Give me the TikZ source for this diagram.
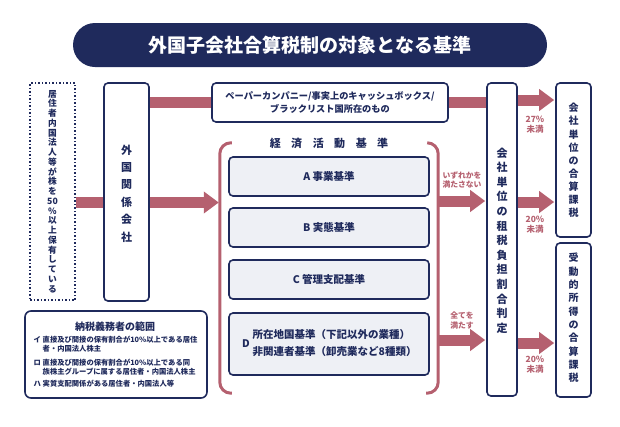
\documentclass[tikz,border=0pt]{standalone}
\usepackage{fontspec}
\setmainfont{Noto Sans CJK JP}
\usetikzlibrary{arrows.meta,backgrounds}
\definecolor{navy}{HTML}{1F2A5C}
\definecolor{rose}{HTML}{B5606F}
\definecolor{boxgray}{HTML}{EEF0F5}
\tikzset{
  box/.style={draw=navy, line width=1.6pt, rounded corners=4pt, fill=white, inner sep=0pt, text=navy, font=\bfseries},
  crit/.style={box, fill=boxgray, minimum width=200pt, minimum height=39pt, font=\bfseries\fontsize{10.5}{12}\selectfont},
  vtxt/.style={text=navy, align=center, inner sep=0pt},
  bar/.style={draw=rose, line width=11pt},
  arr/.style={bar, -{Triangle[length=15pt 0, width=21pt 0]}, shorten >=1pt},
  lbl/.style={text=rose, font=\bfseries\fontsize{7.8}{9.5}\selectfont, align=center, inner sep=0pt},
  pct/.style={text=rose, font=\bfseries\fontsize{8.5}{10}\selectfont, align=center, inner sep=0pt},
  sline/.style={text=navy, anchor=west, inner sep=0pt, font=\bfseries\fontsize{7.3}{8}\selectfont},
}
\begin{document}
\begin{tikzpicture}[x=1pt,y=-1pt]
\useasboundingbox (0,0) rectangle (620,426);
% title
\node[fill=navy, rounded corners=22pt, minimum width=474pt, minimum height=44pt, inner sep=0pt,
      text=white, font=\bfseries\fontsize{19}{19}\selectfont] (title) at (310,45) {外国子会社合算税制の対象となる基準};
% left dotted box
\node[draw=navy, line width=1.5pt, dotted, minimum width=45pt, minimum height=217pt, inner sep=0pt] (own) at (52.5,191.5) {};
\node[vtxt, font=\bfseries\fontsize{8.7}{9.75}\selectfont] (ownt) at (own.center)
  {居\\住\\者\\内\\国\\法\\人\\等\\が\\株\\を\\50\\\%\\以\\上\\保\\有\\し\\て\\い\\る};
% foreign related company
\node[box, minimum width=45pt, minimum height=218pt] (fc) at (126.5,192) {};
\node[vtxt, font=\bfseries\fontsize{11}{17.4}\selectfont] (fct) at (126.5,193.5) {外\\国\\関\\係\\会\\社};
% paper company box
\node[box, minimum width=236pt, minimum height=39pt, align=center, font=\bfseries\fontsize{9.2}{13}\selectfont] (paper) at (330,102.5)
  {ペーパーカンパニー/事実上のキャッシュボックス/\\ブラックリスト国所在のもの};
% economic activity criteria region
\node[minimum width=218pt, minimum height=250pt, inner sep=0pt] (eco) at (329,268) {};
\draw[rose, line width=3pt, rounded corners=11pt] ([xshift=12pt]eco.north west) -- (eco.north west) -- (eco.south west) -- ([xshift=12pt]eco.south west);
\draw[rose, line width=3pt, rounded corners=11pt] ([xshift=-11pt]eco.north east) -- (eco.north east) -- (eco.south east) -- ([xshift=-12pt]eco.south east);
\node[text=navy, inner sep=0pt, font=\bfseries\fontsize{11}{11}\selectfont] (ecot) at (329,143)
  {経\hspace{10.5pt}済\hspace{10.5pt}活\hspace{10.5pt}動\hspace{10.5pt}基\hspace{10.5pt}準};
\node[crit] (A) at (329,176.5) {A 事業基準};
\node[crit] (B) at (329,227.5) {B 実態基準};
\node[crit] (C) at (329,279.5) {C 管理支配基準};
\node[crit, minimum height=62pt] (D) at (329,344) {};
\node[text=navy, anchor=east, inner sep=0pt, font=\bfseries\fontsize{10.5}{12}\selectfont] (Dl) at (250,344) {D};
\node[text=navy, anchor=west, inner sep=0pt, align=left, font=\bfseries\fontsize{10.5}{17}\selectfont] (Dt) at (252.5,343.5)
  {所在地国基準（下記以外の業種）\\非関連者基準（卸売業など8種類）};
% judgement box
\node[box, minimum width=30pt, minimum height=313pt] (judge) at (502,239.5) {};
\node[vtxt, font=\bfseries\fontsize{11}{14.6}\selectfont] (judget) at (502,240.5)
  {会\\社\\単\\位\\の\\租\\税\\負\\担\\割\\合\\判\\定};
% result boxes
\node[box, minimum width=35pt, minimum height=154pt] (r1) at (573.5,160) {};
\node[vtxt, font=\bfseries\fontsize{10}{13.1}\selectfont] (r1t) at (573.5,160.5) {会\\社\\単\\位\\の\\合\\算\\課\\税};
\node[box, minimum width=35pt, minimum height=154pt] (r2) at (573.5,320) {};
\node[vtxt, font=\bfseries\fontsize{10}{13.3}\selectfont] (r2t) at (573.5,318) {受\\動\\的\\所\\得\\の\\合\\算\\課\\税};
% taxpayer scope box
\node[box, rounded corners=6pt, minimum width=182pt, minimum height=87pt] (scope) at (116,354.5) {};
\node[text=navy, inner sep=0pt, font=\bfseries\fontsize{10}{10}\selectfont] (scopet) at (115,327) {納税義務者の範囲};
\node[sline] (s1m) at (33.5,340) {イ};
\node[sline] (s1) at (42.5,340) {直接及び間接の保有割合が10\%以上である居住};
\node[sline] (s1b) at (42.5,349) {者・内国法人株主};
\node[sline] (s2m) at (33.5,363) {ロ};
\node[sline] (s2) at (42.5,363) {直接及び間接の保有割合が10\%以上である同};
\node[sline] (s2b) at (42.5,372) {族株主グループに属する居住者・内国法人株主};
\node[sline] (s3m) at (33.5,384) {ハ};
\node[sline] (s3) at (42.5,384) {実質支配関係がある居住者・内国法人等};
% coordinates for bar heights
\coordinate (y1) at (0,202.5);
\coordinate (y2) at (0,201);
\coordinate (y3) at (0,340);
\coordinate (y4) at (0,100);
\coordinate (y5) at (0,202);
\coordinate (y6) at (0,343);
% connectors
\begin{scope}[on background layer]
\draw[bar] (own.east |- y1) -- (fc.west |- y1);
\draw[bar] (fc.east |- paper.west) -- (paper.west);
\draw[bar] (paper.east) -- (judge.west |- paper.east);
\end{scope}
\draw[arr] (fc.east |- y1) -- (eco.west |- y1);
\draw[arr] (eco.east |- y2) -- (judge.west |- y2);
\draw[arr] (eco.east |- y3) -- (judge.west |- y3);
\draw[arr] (judge.east |- y4) -- (r1.west |- y4);
\draw[arr] (judge.east |- y5) -- (r1.west |- y5);
\draw[arr] (judge.east |- y6) -- (r2.west |- y6);
% labels
\node[lbl] (l1) at (462,180) {いずれかを\\満たさない};
\node[lbl] (l2) at (462,320.5) {全てを\\満たす};
\node[pct] (l3) at (535,125) {27\%\\未満};
\node[pct] (l4) at (535,225) {20\%\\未満};
\node[pct] (l5) at (535,365) {20\%\\未満};
\end{tikzpicture}
\end{document}
